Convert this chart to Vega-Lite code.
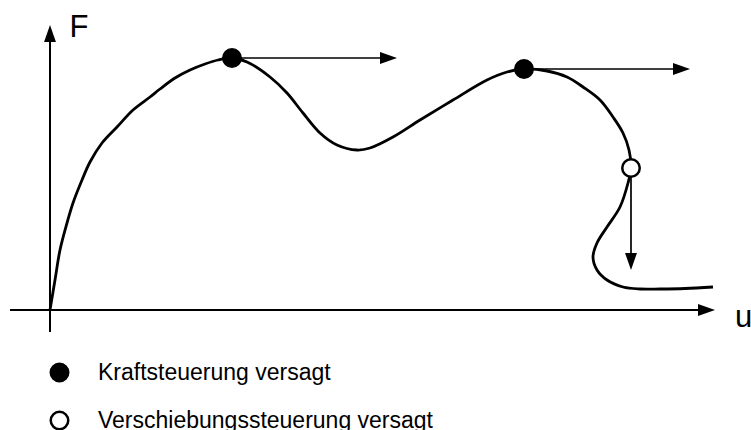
{
  "$schema": "https://vega.github.io/schema/vega-lite/v6.json",
  "width": 751,
  "height": 430,
  "autosize": {"type": "none"},
  "padding": 0,
  "config": {"view": {"stroke": null}, "font": "Liberation Sans"},
  "datasets": {
    "curve": [
      {"i": 1, "u": 0.0, "F": 0.0},
      {"i": 2, "u": 0.05, "F": 0.30},
      {"i": 3, "u": 0.10, "F": 0.60},
      {"i": 4, "u": 0.17, "F": 0.87},
      {"i": 5, "u": 0.23, "F": 1.07},
      {"i": 6, "u": 0.32, "F": 1.30},
      {"i": 7, "u": 0.40, "F": 1.48},
      {"i": 8, "u": 0.52, "F": 1.67},
      {"i": 9, "u": 0.67, "F": 1.83},
      {"i": 10, "u": 0.83, "F": 2.00},
      {"i": 11, "u": 1.00, "F": 2.13},
      {"i": 12, "u": 1.10, "F": 2.21},
      {"i": 13, "u": 1.25, "F": 2.32},
      {"i": 14, "u": 1.40, "F": 2.40},
      {"i": 15, "u": 1.55, "F": 2.46},
      {"i": 16, "u": 1.68, "F": 2.50},
      {"i": 17, "u": 1.82, "F": 2.52},
      {"i": 18, "u": 1.97, "F": 2.48},
      {"i": 19, "u": 2.20, "F": 2.33},
      {"i": 20, "u": 2.37, "F": 2.17},
      {"i": 21, "u": 2.53, "F": 1.97},
      {"i": 22, "u": 2.70, "F": 1.77},
      {"i": 23, "u": 2.87, "F": 1.65},
      {"i": 24, "u": 3.07, "F": 1.60},
      {"i": 25, "u": 3.20, "F": 1.62},
      {"i": 26, "u": 3.43, "F": 1.73},
      {"i": 27, "u": 3.70, "F": 1.90},
      {"i": 28, "u": 4.03, "F": 2.10},
      {"i": 29, "u": 4.37, "F": 2.30},
      {"i": 30, "u": 4.57, "F": 2.38},
      {"i": 31, "u": 4.74, "F": 2.41},
      {"i": 32, "u": 4.97, "F": 2.39},
      {"i": 33, "u": 5.17, "F": 2.33},
      {"i": 34, "u": 5.33, "F": 2.23},
      {"i": 35, "u": 5.50, "F": 2.10},
      {"i": 36, "u": 5.63, "F": 1.93},
      {"i": 37, "u": 5.73, "F": 1.77},
      {"i": 38, "u": 5.79, "F": 1.60},
      {"i": 39, "u": 5.81, "F": 1.42},
      {"i": 40, "u": 5.78, "F": 1.27},
      {"i": 41, "u": 5.70, "F": 1.03},
      {"i": 42, "u": 5.57, "F": 0.83},
      {"i": 43, "u": 5.47, "F": 0.67},
      {"i": 44, "u": 5.43, "F": 0.53},
      {"i": 45, "u": 5.47, "F": 0.40},
      {"i": 46, "u": 5.57, "F": 0.30},
      {"i": 47, "u": 5.73, "F": 0.23},
      {"i": 48, "u": 5.90, "F": 0.21},
      {"i": 49, "u": 6.10, "F": 0.21},
      {"i": 50, "u": 6.35, "F": 0.215},
      {"i": 51, "u": 6.63, "F": 0.23}
    ],
    "segments": [
      {"name": "u-axis", "u1": -0.4, "u2": 6.55, "F1": 0, "F2": 0, "w": 2},
      {"name": "F-axis", "u1": 0, "u2": 0, "F1": -0.22, "F2": 2.75, "w": 2},
      {"name": "arrow1", "u1": 1.82, "u2": 3.35, "F1": 2.52, "F2": 2.52, "w": 1.7},
      {"name": "arrow2", "u1": 4.74, "u2": 6.30, "F1": 2.41, "F2": 2.41, "w": 1.7},
      {"name": "arrow3", "u1": 5.81, "u2": 5.81, "F1": 1.42, "F2": 0.50, "w": 1.7}
    ],
    "heads": [
      {"name": "u-axis", "u": 6.65, "F": 0, "angle": 0},
      {"name": "F-axis", "u": 0, "F": 2.85, "angle": 270},
      {"name": "arrow1", "u": 3.47, "F": 2.52, "angle": 0},
      {"name": "arrow2", "u": 6.40, "F": 2.41, "angle": 0},
      {"name": "arrow3", "u": 5.81, "F": 0.40, "angle": 90}
    ],
    "failures": [
      {"u": 1.82, "F": 2.52, "type": "Kraftsteuerung versagt"},
      {"u": 4.74, "F": 2.41, "type": "Kraftsteuerung versagt"},
      {"u": 5.81, "F": 1.42, "type": "Verschiebungssteuerung versagt"}
    ],
    "labels": [
      {"u": 0.195, "F": 2.73, "label": "F"},
      {"u": 6.85, "F": -0.17, "label": "u"}
    ]
  },
  "layer": [
    {
      "data": {"name": "segments"},
      "mark": {"type": "rule", "color": "black"},
      "encoding": {
        "x": {"field": "u1", "type": "quantitative", "scale": {"domain": [-0.5, 7.01], "nice": false, "zero": false}, "axis": null},
        "x2": {"field": "u2"},
        "y": {"field": "F1", "type": "quantitative", "scale": {"domain": [-1.2, 3.1], "nice": false, "zero": false}, "axis": null},
        "y2": {"field": "F2"},
        "strokeWidth": {"field": "w", "type": "quantitative", "scale": null}
      }
    },
    {
      "data": {"name": "heads"},
      "mark": {"type": "point", "shape": "M0,0L-2,-0.7L-2,0.7Z", "filled": true, "color": "black", "opacity": 1, "size": 289},
      "encoding": {
        "x": {"field": "u", "type": "quantitative", "scale": {"domain": [-0.5, 7.01], "nice": false, "zero": false}, "axis": null},
        "y": {"field": "F", "type": "quantitative", "scale": {"domain": [-1.2, 3.1], "nice": false, "zero": false}, "axis": null},
        "angle": {"field": "angle", "type": "quantitative", "scale": null}
      }
    },
    {
      "data": {"name": "curve"},
      "mark": {"type": "line", "color": "black", "strokeWidth": 2.8, "interpolate": "catmull-rom"},
      "encoding": {
        "x": {"field": "u", "type": "quantitative", "scale": {"domain": [-0.5, 7.01], "nice": false, "zero": false}, "axis": null},
        "y": {"field": "F", "type": "quantitative", "scale": {"domain": [-1.2, 3.1], "nice": false, "zero": false}, "axis": null},
        "order": {"field": "i", "type": "quantitative"}
      }
    },
    {
      "data": {"name": "failures"},
      "mark": {"type": "point", "shape": "circle", "filled": true, "stroke": "black", "strokeWidth": 2.5, "size": 306, "opacity": 1},
      "encoding": {
        "x": {"field": "u", "type": "quantitative", "scale": {"domain": [-0.5, 7.01], "nice": false, "zero": false}, "axis": null},
        "y": {"field": "F", "type": "quantitative", "scale": {"domain": [-1.2, 3.1], "nice": false, "zero": false}, "axis": null},
        "fill": {
          "field": "type",
          "type": "nominal",
          "scale": {"domain": ["Kraftsteuerung versagt", "Verschiebungssteuerung versagt"], "range": ["black", "white"]},
          "legend": {
            "title": null,
            "orient": "none",
            "legendX": 48,
            "legendY": 361,
            "padding": 0,
            "labelFont": "Liberation Sans",
            "labelFontSize": 23,
            "labelColor": "black",
            "labelLimit": 0,
            "labelOffset": 27,
            "rowPadding": 19,
            "symbolType": "circle",
            "symbolSize": 306,
            "symbolStrokeWidth": 2.5,
            "symbolStrokeColor": "black",
            "symbolOpacity": 1
          }
        }
      }
    },
    {
      "data": {"name": "labels"},
      "mark": {"type": "text", "font": "Liberation Sans", "fontSize": 31, "align": "left", "baseline": "alphabetic", "color": "black"},
      "encoding": {
        "x": {"field": "u", "type": "quantitative", "scale": {"domain": [-0.5, 7.01], "nice": false, "zero": false}, "axis": null},
        "y": {"field": "F", "type": "quantitative", "scale": {"domain": [-1.2, 3.1], "nice": false, "zero": false}, "axis": null},
        "text": {"field": "label", "type": "nominal"}
      }
    }
  ]
}
